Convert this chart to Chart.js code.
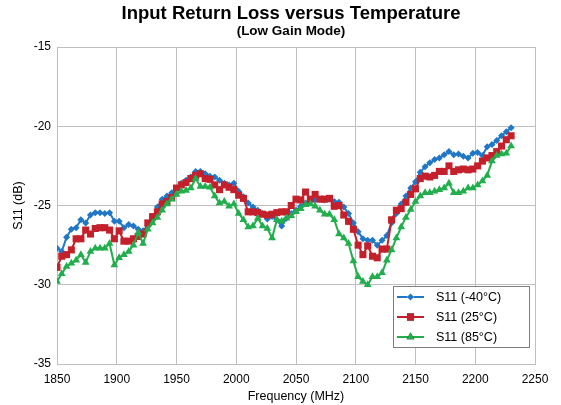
<!DOCTYPE html>
<html><head><meta charset="utf-8">
<script src="https://cdn.jsdelivr.net/npm/chart.js@4/dist/chart.umd.min.js"></script>
<style>html,body{margin:0;padding:0;background:#fff}canvas{display:block}</style>
</head><body>
<canvas id="c" width="561" height="405"></canvas>
<script>
const frequencies = [1850,1854,1858,1862,1866,1870,1874,1878,1882,1886,1890,1894,1898,1902,1906,1910,1914,1918,1922,1926,1930,1934,1938,1942,1946,1950,1954,1958,1962,1966,1970,1974,1978,1982,1986,1990,1994,1998,2002,2006,2010,2014,2018,2022,2026,2030,2034,2038,2042,2046,2050,2054,2058,2062,2066,2070,2074,2078,2082,2086,2090,2094,2098,2102,2106,2110,2114,2118,2122,2126,2130,2134,2138,2142,2146,2150,2154,2158,2162,2166,2170,2174,2178,2182,2186,2190,2194,2198,2202,2206,2210,2214,2218,2222,2226,2230];
const s11Minus40 = [-27.7,-27.9,-27.0,-26.5,-26.4,-25.9,-26.1,-25.6,-25.45,-25.45,-25.5,-25.45,-26.0,-26.0,-26.4,-26.2,-26.3,-26.5,-26.6,-26.3,-25.8,-25.1,-24.6,-24.4,-24.2,-23.9,-23.6,-23.4,-23.2,-22.85,-22.85,-23.0,-23.15,-23.2,-23.4,-23.6,-23.7,-23.6,-24.1,-24.45,-24.85,-25.1,-25.3,-25.5,-25.85,-25.7,-25.9,-26.3,-25.8,-25.5,-25.3,-25.05,-24.85,-24.7,-24.65,-24.6,-24.65,-24.6,-24.75,-24.8,-25.1,-25.5,-26.1,-26.65,-27.1,-27.2,-27.2,-27.5,-27.2,-26.9,-26.1,-25.5,-24.9,-24.4,-23.9,-23.5,-22.9,-22.55,-22.3,-22.1,-22.0,-21.8,-21.6,-21.8,-21.75,-21.9,-22.0,-21.7,-21.65,-21.85,-21.3,-21.15,-20.9,-20.6,-20.35,-20.1];
const s11At25 = [-28.9,-28.2,-28.1,-27.8,-27.1,-27.1,-26.55,-26.8,-26.45,-26.4,-26.4,-26.55,-27.1,-26.6,-27.25,-27.25,-27.1,-26.95,-26.8,-26.1,-25.7,-25.4,-24.9,-24.75,-24.5,-23.9,-23.7,-23.55,-23.3,-23.1,-23.0,-23.3,-23.35,-23.7,-24.0,-23.7,-23.85,-24.0,-24.35,-24.55,-25.4,-25.4,-25.45,-25.55,-25.6,-25.55,-25.45,-25.4,-25.4,-25.0,-24.6,-24.65,-24.15,-24.6,-24.3,-24.6,-24.6,-24.55,-25.05,-25.0,-25.6,-26.0,-26.5,-27.5,-28.1,-27.55,-28.2,-28.3,-27.75,-27.75,-25.9,-25.3,-25.2,-24.8,-24.3,-23.95,-23.3,-23.15,-23.2,-23.1,-22.85,-22.85,-22.5,-22.85,-22.75,-22.7,-22.75,-22.7,-22.5,-22.2,-22.0,-21.85,-21.6,-21.25,-20.85,-20.6];
const s11At85 = [-29.8,-29.3,-28.85,-28.65,-28.45,-28.1,-28.6,-27.9,-27.7,-27.7,-27.7,-27.4,-28.75,-28.3,-28.1,-27.9,-27.5,-26.7,-27.4,-26.5,-26.1,-25.75,-25.3,-24.9,-24.6,-24.3,-24.1,-24.05,-23.9,-23.3,-23.8,-23.8,-23.85,-24.4,-24.85,-24.75,-25.05,-24.9,-25.5,-25.9,-26.35,-26.3,-25.8,-26.3,-26.45,-27.05,-25.9,-26.0,-25.8,-25.65,-25.4,-25.2,-24.95,-24.9,-25.05,-25.3,-25.55,-25.55,-25.9,-26.8,-27.05,-27.4,-28.5,-29.5,-29.8,-30.0,-29.5,-29.5,-29.25,-28.45,-27.8,-27.05,-26.35,-25.75,-25.25,-24.75,-24.4,-24.2,-24.2,-24.1,-24.0,-23.9,-23.6,-24.2,-24.2,-24.1,-23.9,-23.9,-23.7,-23.45,-23.1,-22.2,-21.85,-21.75,-21.7,-21.25];
const seriesLabels = ['S11 (-40°C)','S11 (25°C)','S11 (85°C)'];
const titleText = 'Input Return Loss versus Temperature';
const subtitleText = '(Low Gain Mode)';
const xTitle = 'Frequency (MHz)';
const yTitle = 'S11 (dB)';

const FONT = "'Liberation Sans', Arial, sans-serif";
const colors = ['#1F77C6','#C4202B','#22AE4C'];
const styles = ['rectRot','rect','triangle'];
const radii = [3.5,5,4.5];
const seriesValues = [s11Minus40, s11At25, s11At85];

const datasets = seriesValues.map((vals, k) => ({
  label: seriesLabels[k],
  data: frequencies.map((f, i) => ({x: f, y: vals[i]})),
  borderColor: colors[k],
  backgroundColor: colors[k],
  borderWidth: 2,
  pointStyle: styles[k],
  pointRadius: radii[k],
  pointBorderWidth: 0,
  pointBackgroundColor: colors[k],
  order: 3 - k,
  tension: 0
}));

const titles = {
  id: 'titles',
  afterDraw(chart) {
    const ctx = chart.ctx;
    ctx.save();
    ctx.fillStyle = '#000';
    ctx.textAlign = 'center';
    ctx.textBaseline = 'middle';
    ctx.font = 'bold 18.5px ' + FONT;
    ctx.fillText(titleText, 291, 14);
    ctx.font = 'bold 13.5px ' + FONT;
    ctx.fillText(subtitleText, 291, 31);
    ctx.restore();
  }
};

const legendBox = {
  id: 'legendBox',
  afterDraw(chart) {
    const ctx = chart.ctx;
    const x0 = 393, y0 = 286, w = 136, h = 61;
    ctx.save();
    ctx.fillStyle = '#fff';
    ctx.fillRect(x0, y0, w, h);
    ctx.strokeStyle = '#7F7F7F';
    ctx.lineWidth = 1;
    ctx.strokeRect(x0 + 0.5, y0 + 0.5, w, h);
    ctx.font = '12.5px ' + FONT;
    ctx.textBaseline = 'middle';
    chart.data.datasets.forEach((ds, k) => {
      const y = y0 + 11 + k * 20;
      ctx.strokeStyle = ds.borderColor;
      ctx.lineWidth = 2;
      ctx.beginPath(); ctx.moveTo(x0 + 4, y); ctx.lineTo(x0 + 31, y); ctx.stroke();
      Chart.helpers.drawPoint(ctx, {pointStyle: ds.pointStyle, radius: ds.pointRadius, borderWidth: 0, rotation: 0}, x0 + 17.5, y);
      ctx.fillStyle = ds.borderColor;
      ctx.fill();
      ctx.fillStyle = '#000';
      ctx.fillText(ds.label, x0 + 43, y + 1);
    });
    ctx.restore();
  }
};

new Chart(document.getElementById('c'), {
  type: 'line',
  data: { datasets },
  options: {
    responsive: false,
    animation: false,
    layout: { padding: { left: 0, right: 26, top: 47, bottom: 0 } },
    plugins: {
      legend: { display: false },
      tooltip: { enabled: false },
      title: { display: false },
      subtitle: { display: false }
    },
    scales: {
      x: {
        type: 'linear', min: 1850, max: 2250,
        ticks: { stepSize: 50, color: '#000', font: { family: FONT, size: 12 }, padding: 8, maxRotation: 0,
                 callback: (v) => String(v) },
        grid: { color: '#BFBFBF', lineWidth: 1, drawTicks: false },
        border: { color: '#BFBFBF' },
        title: { display: true, text: xTitle, color: '#000', font: { family: FONT, size: 12.5 }, padding: { top: 4, bottom: 1 } },
        afterFit(s) { s.height = 41; }
      },
      y: {
        min: -35, max: -15,
        ticks: { stepSize: 5, color: '#000', font: { family: FONT, size: 12 }, padding: 6 },
        grid: { color: '#BFBFBF', lineWidth: 1, drawTicks: false },
        border: { color: '#BFBFBF' },
        title: { display: true, text: yTitle, color: '#000', font: { family: FONT, size: 12.5 }, padding: { top: 11, bottom: 0 } },
        afterFit(s) { s.width = 57; }
      }
    }
  },
  plugins: [legendBox, titles]
});
</script>
</body></html>
